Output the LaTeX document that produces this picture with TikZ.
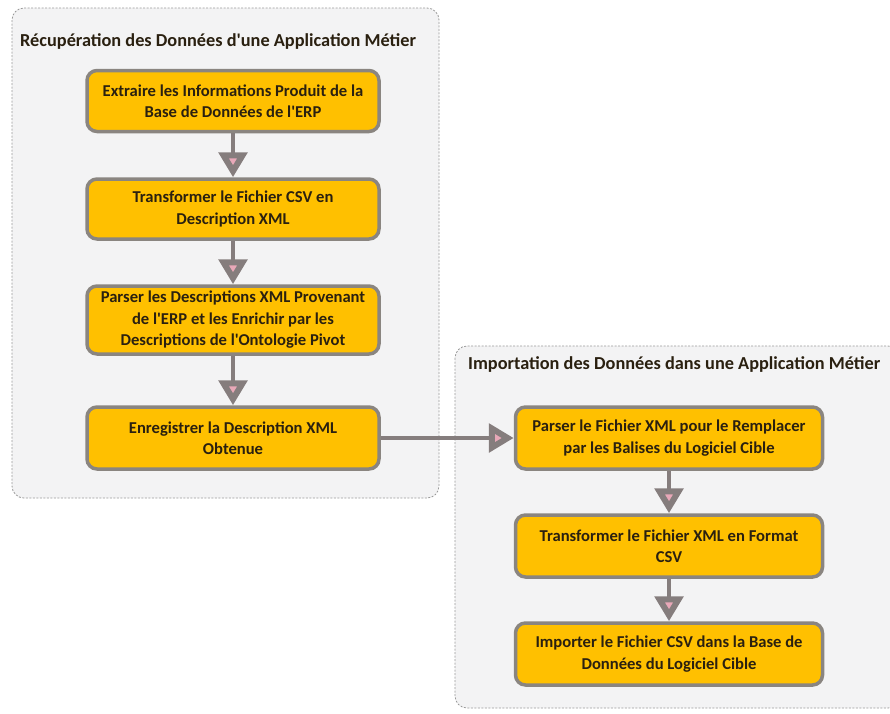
\documentclass[tikz,border=0pt]{standalone}
\usepackage{fontspec}
\setmainfont{Carlito}[Ligatures=TeXOff]
\usetikzlibrary{arrows.meta}
\definecolor{boxfill}{HTML}{FFC000}
\definecolor{boxdraw}{HTML}{8A8580}
\definecolor{contfill}{HTML}{F3F3F4}
\definecolor{contdraw}{HTML}{9A9A9A}
\definecolor{txt}{HTML}{2A2010}
\definecolor{tipfill}{HTML}{E8A8B8}
\definecolor{conncol}{HTML}{857D7D}
\tikzset{
  container/.style={draw=contdraw, fill=contfill, dash pattern=on 2pt off 1.5pt, line width=0.8pt, rounded corners=12pt},
  stepbox/.style={draw=boxdraw, fill=boxfill, line width=3.5pt, rounded corners=10pt, minimum width=292pt, minimum height=60pt, align=center, text=txt, font=\bfseries\fontsize{16.6}{21.5}\selectfont, inner sep=0pt},
  conn/.style={draw=conncol, line width=4.5pt, -{Triangle[width=28pt,length=25pt,line width=6pt,fill=tipfill]}},
  grouptitle/.style={anchor=west, text=txt, font=\bfseries\fontsize{18.3}{21}\selectfont, inner sep=0pt}
}
\begin{document}
\begin{tikzpicture}[x=1pt,y=-1pt]
\useasboundingbox (0,0) rectangle (890,713);
\fill[white] (0,0) rectangle (890,713);
\path[container] (12,8) rectangle (439,498);
\path[container] (455,346) rectangle (900,708);
\node[grouptitle] (t1) at (20,42) {Récupération des Données d'une Application Métier};
\node[grouptitle] (t2) at (468,364) {Importation des Données dans une Application Métier};

\node[stepbox, minimum height=61pt] (b1) at (233,101) {Extraire les Informations Produit de la\\Base de Données de l'ERP};
\node[stepbox, minimum height=60pt] (b2) at (233,209) {Transformer le Fichier CSV en\\Description XML};
\node[stepbox, minimum height=68pt] (b3) at (233,320) {Parser les Descriptions XML Provenant\\de l'ERP et les Enrichir par les\\Descriptions de l'Ontologie Pivot};
\node[stepbox, minimum height=62pt] (b4) at (233,438) {Enregistrer la Description XML\\Obtenue};

\node[stepbox, minimum width=307pt, minimum height=62pt] (b5) at (669,438) {Parser le Fichier XML pour le Remplacer\\par les Balises du Logiciel Cible};
\node[stepbox, minimum width=307pt, minimum height=62pt] (b6) at (669,546) {Transformer le Fichier XML en Format\\CSV};
\node[stepbox, minimum width=307pt, minimum height=62pt] (b7) at (669,654) {Importer le Fichier CSV dans la Base de\\Données du Logiciel Cible};

\draw[conn] (b1) -- (b2);
\draw[conn] (b2) -- (b3);
\draw[conn] (b3) -- (b4);
\draw[conn] (b4) -- (b5);
\draw[conn] (b5) -- (b6);
\draw[conn] (b6) -- (b7);
\end{tikzpicture}
\end{document}
